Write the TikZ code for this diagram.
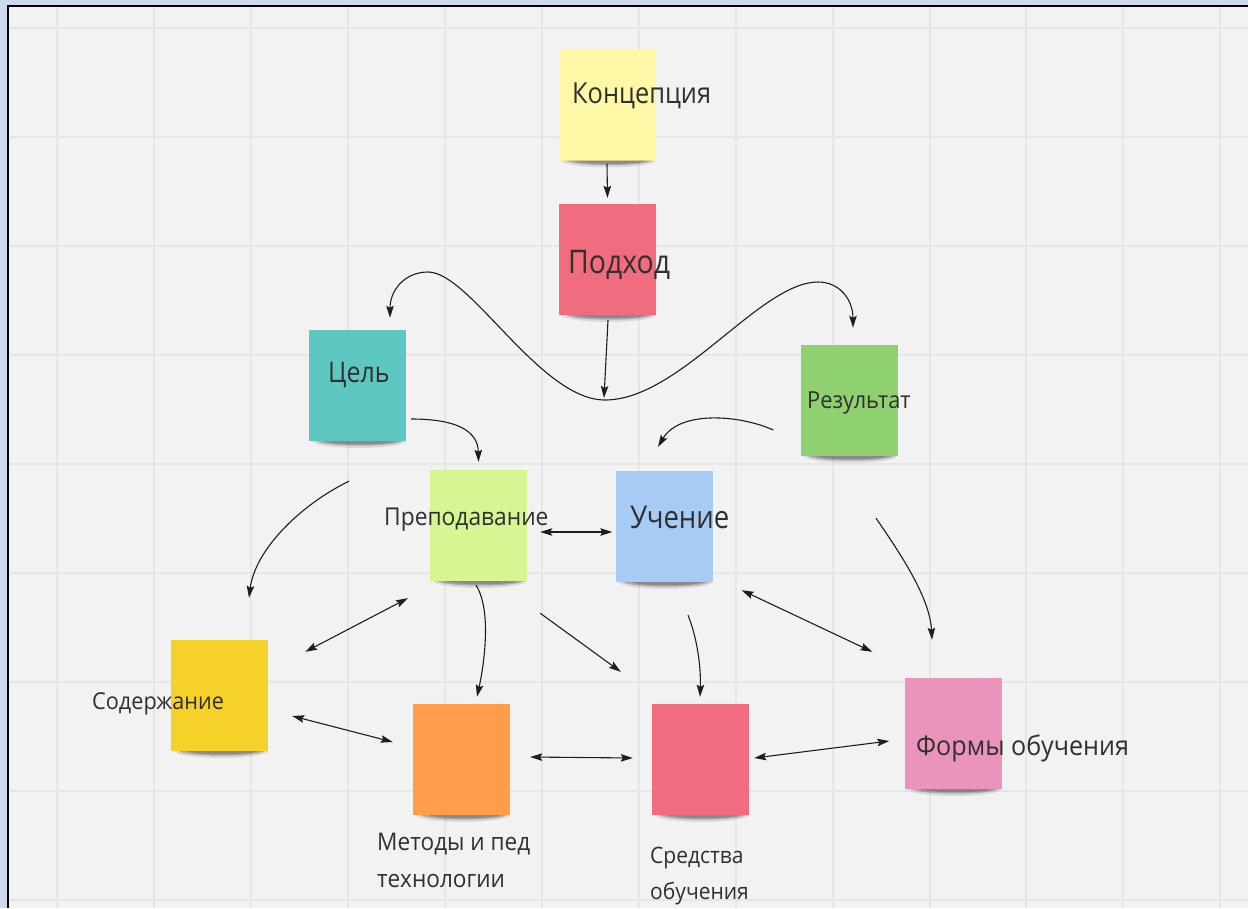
\documentclass[tikz,border=0pt]{standalone}
\usepackage{fontspec}
\setmainfont{Open Sans}[FakeStretch=0.875]
\newfontfamily\smallfont{Open Sans}[FakeStretch=0.93]
\usetikzlibrary{arrows.meta,calc}
\definecolor{bg}{HTML}{F2F2F2}
\definecolor{gridc}{HTML}{E6E6E6}
\definecolor{frameblue}{HTML}{CCD9EF}
\definecolor{ink}{HTML}{1E1E1E}
\definecolor{txt}{HTML}{303030}
\definecolor{cyellow}{HTML}{FEF8A6}
\definecolor{cred}{HTML}{F16C7F}
\definecolor{cteal}{HTML}{5EC7C2}
\definecolor{cgreen}{HTML}{8FD170}
\definecolor{clime}{HTML}{D5F693}
\definecolor{cblue}{HTML}{A6CCF5}
\definecolor{cgold}{HTML}{F5D12A}
\definecolor{corange}{HTML}{FF9D48}
\definecolor{cpink}{HTML}{EA94BB}
\newcommand\noteshadow[1]{%
  \fill[black,opacity=.10] ($(#1.south west)+(3,0)$) .. controls +(8,9) and +(-8,9) .. ($(#1.south east)+(0,0)$) -- cycle;
  \fill[black,opacity=.22] ($(#1.south west)+(8,0)$) .. controls +(10,6) and +(-10,6) .. ($(#1.south east)+(-4,0)$) -- cycle;
  \fill[black,opacity=.18] ($(#1.south west)+(16,0)$) .. controls +(10,4) and +(-10,4) .. ($(#1.south east)+(-10,0)$) -- cycle;
}
\begin{document}
\begin{tikzpicture}[x=1pt,y=-1pt,
  note/.style={minimum width=97pt,minimum height=111pt,inner sep=0pt,draw=none},
  lbl/.style={anchor=base west,inner sep=0pt,text=txt,align=left},
  arr/.style={draw=ink,line width=1.1pt,-{Stealth[length=12pt,width=7.5pt,inset=2pt]}},
  barr/.style={draw=ink,line width=1.1pt,{Stealth[length=12pt,width=7.5pt,inset=2pt]}-{Stealth[length=12pt,width=7.5pt,inset=2pt]}}]
\useasboundingbox (0,0) rectangle (1248,908);
% frame and background
\fill[frameblue] (0,0) rectangle (1248,908);
\fill[bg] (8,6) rectangle (1248,908);
\foreach \gx in {57,154,251,348,445,542,639,736,833,930,1026,1123,1220}
  \draw[gridc,line width=2pt] (\gx,7) -- (\gx,908);
\foreach \gy in {28,137,246,355,464,573,682,791,900}
  \draw[gridc,line width=2pt] (9,\gy) -- (1248,\gy);
\draw[black,line width=2.5pt] (8,908) -- (8,6) -- (1248,6);
% notes
\node[note,fill=cyellow] (konz) at (607,105) {};
\node[note,fill=cred]    (podh) at (607.5,259.5) {};
\node[note,fill=cteal]   (cel)  at (357.5,385.5) {};
\node[note,fill=cgreen]  (rez)  at (849,400.5) {};
\node[note,fill=clime]   (prep) at (478.5,525.5) {};
\node[note,fill=cblue]   (uch)  at (664,526.5) {};
\node[note,fill=cgold]   (sod)  at (219.5,695.5) {};
\node[note,fill=corange] (met)  at (461.5,759.5) {};
\node[note,fill=cred]    (sred) at (700.5,759.5) {};
\node[note,fill=cpink]   (form) at (953,733.5) {};
\foreach \n in {konz,podh,cel,rez,prep,uch,sod,met,sred,form} {\noteshadow{\n}}
% labels
\node[lbl,font=\fontsize{29}{32}\selectfont] (tkonz) at (572,103) {Концепция};
\node[lbl,font=\fontsize{32.5}{36}\selectfont] (tpodh) at (568,273) {Подход};
\node[lbl,font=\fontsize{28.5}{32}\selectfont] (tcel)  at (328,382) {Цель};
\node[lbl,font=\smallfont\fontsize{23.5}{25}\selectfont] (trez)  at (807,408) {Результат};
\node[lbl,font=\smallfont\fontsize{24.5}{26}\selectfont] (tprep) at (384,525) {Преподавание};
\node[lbl,font=\fontsize{31.5}{35}\selectfont] (tuch)  at (630,528) {Учение};
\node[lbl,font=\smallfont\fontsize{23.3}{25}\selectfont] (tsod)  at (92,709) {Содержание};
\node[lbl,font=\smallfont\fontsize{27}{29}\selectfont] (tform) at (916,755) {Формы обучения};
\node[lbl,font=\smallfont\fontsize{24.3}{37}\selectfont] (tmet)  at (377,887) {Методы и пед\\технологии};
\node[lbl,font=\smallfont\fontsize{22.6}{36}\selectfont] (tsred) at (650,899) {Средства\\обучения};
% connectors
\coordinate (wavebot) at (604,398);
\draw[arr] ($(konz.south)+(0,3)$) -- ($(podh.north)+(0,-6)$);
\draw[arr] ($(podh.south)+(0.5,5)$) -- (wavebot);
\draw[barr] ($(cel.north)+(32.5,-12)$) .. controls (390,290) and (405,272) .. (428,272)
   .. controls (470,272) and (540,400) .. (605,400)
   .. controls (680,400) and (760,282) .. (818,282)
   .. controls (840,282) and (853,300) .. ($(rez.north)+(4,-17)$);
\draw[arr] ($(cel.east)+(5,33.5)$) .. controls (455,419) and (478,430) .. ($(prep.north)+(0,-8)$);
\draw[arr] ($(rez.west)+(-27,29.5)$) .. controls (740,415) and (680,410) .. ($(uch.north)+(-6,-24)$);
\draw[arr] ($(cel.south)+(-8.5,40)$) .. controls (300,505) and (255,550) .. ($(sod.north)+(29.5,-42)$);
\draw[barr] ($(prep.east)+(13,6.5)$) -- ($(uch.west)+(-3,5.5)$);
\draw[barr] ($(prep.south west)+(-22,17)$) -- ($(sod.north east)+(37,12)$);
\draw[arr] ($(prep.south)+(-2.5,4)$) .. controls (492,610) and (484,665) .. ($(met.north)+(15.5,-7)$);
\draw[arr] ($(prep.south east)+(13,32)$) -- ($(sred.north west)+(-31,-32)$);
\draw[barr] ($(sod.east)+(24,20.5)$) -- ($(met.west)+(-20,-17.5)$);
\draw[barr] ($(met.east)+(20,-2.5)$) -- ($(sred.west)+(-19,-1.5)$);
\draw[arr] ($(uch.south)+(24,33)$) .. controls (698,640) and (701,670) .. ($(sred.north)+(-0.5,-7)$);
\draw[barr] ($(uch.south east)+(29,8)$) -- ($(form.north west)+(-32,-26)$);
\draw[arr] ($(rez.south)+(27,62)$) .. controls (905,560) and (930,600) .. ($(form.north)+(-21,-38)$);
\draw[barr] ($(sred.east)+(5,-1.5)$) -- ($(form.west)+(-15,7.5)$);
\end{tikzpicture}
\end{document}
